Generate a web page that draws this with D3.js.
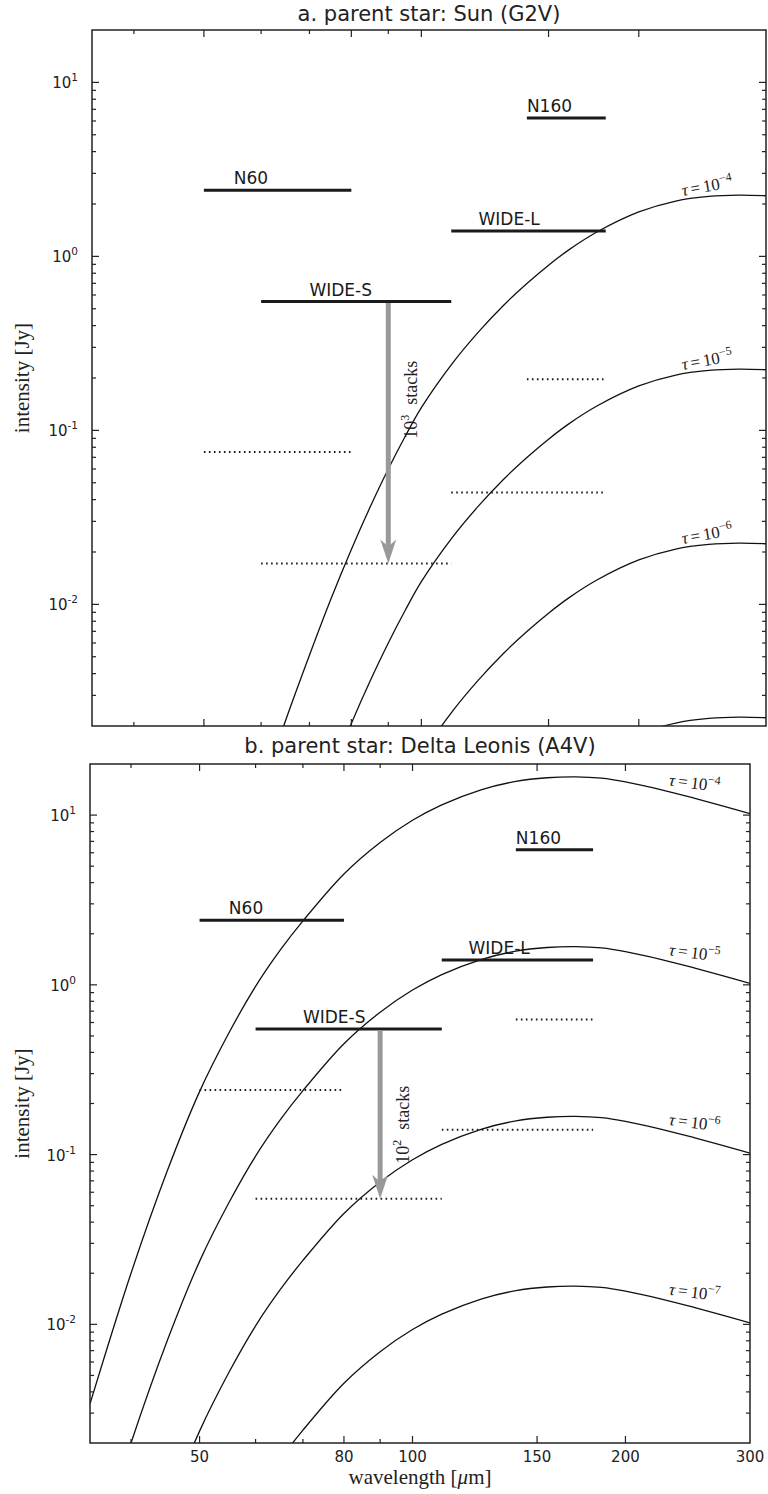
<!DOCTYPE html>
<html><head><meta charset="utf-8">
<script src="https://cdn.jsdelivr.net/npm/d3@7"></script>
<style>body{margin:0;background:#fff}svg{display:block}</style>
</head><body>
<svg id="c" width="768" height="1494"></svg>
<script>
// ---------------- data ----------------
const sunWavelengths = [62,65,70,75,80,85,90,95,100,110,120,130,140,150,160,175,200,225,250,275,300];
const sunTau4 = [0.00124,0.0022,0.0051,0.0108,0.0207,0.0365,0.060,0.0925,0.135,0.238,0.368,0.524,0.698,0.89,1.09,1.38,1.80,2.08,2.21,2.25,2.23];
const sunTau5 = [0.000124,0.00022,0.00051,0.00108,0.00207,0.00365,0.0060,0.00925,0.0135,0.0238,0.0368,0.0524,0.0698,0.089,0.109,0.138,0.180,0.208,0.221,0.225,0.223];
const sunTau6 = [0.0000124,0.000022,0.000051,0.000108,0.000207,0.000365,0.00060,0.000925,0.00135,0.00238,0.00368,0.00524,0.00698,0.0089,0.0109,0.0138,0.0180,0.0208,0.0221,0.0225,0.0223];
const sunTau7 = [0.00000124,0.0000022,0.0000051,0.0000108,0.0000207,0.0000365,0.000060,0.0000925,0.000135,0.000238,0.000368,0.000524,0.000698,0.00089,0.00109,0.00138,0.00180,0.00208,0.00221,0.00225,0.00223];

const leoWavelengths = [35,40,45,50,55,60,65,70,80,90,100,110,125,140,155,170,185,200,225,250,275,300];
const leoTau4 = [0.0034,0.020,0.080,0.235,0.52,0.98,1.6,2.38,4.5,6.9,9.32,11.49,14.1,15.8,16.6,16.8,16.5,15.7,14.1,12.6,11.3,10.2];
const leoTau5 = [0.00034,0.0020,0.0080,0.0235,0.052,0.098,0.16,0.238,0.45,0.69,0.932,1.149,1.41,1.58,1.66,1.68,1.65,1.57,1.41,1.26,1.13,1.02];
const leoTau6 = [0.000034,0.00020,0.00080,0.00235,0.0052,0.0098,0.016,0.0238,0.045,0.069,0.0932,0.1149,0.141,0.158,0.166,0.168,0.165,0.157,0.141,0.126,0.113,0.102];
const leoTau7 = [0.0000034,0.000020,0.000080,0.000235,0.00052,0.00098,0.0016,0.00238,0.0045,0.0069,0.00932,0.01149,0.0141,0.0158,0.0166,0.0168,0.0165,0.0157,0.0141,0.0126,0.0113,0.0102];

const sunTauExponents = ["\u22124","\u22125","\u22126"];
const leoTauExponents = ["\u22124","\u22125","\u22126","\u22127"];

const bandNames  = ["N60","WIDE-S","WIDE-L","N160"];
const bandStart  = [50,60,110,140];
const bandEnd    = [80,110,180,180];
const bandLevel  = [2.4,0.55,1.4,6.25];
const bandLabelAt = [55,70,120,140];
const sunLimit   = [0.075,0.0172,0.044,0.197];
const leoLimit   = [0.24,0.055,0.14,0.625];

const xMajorTicks = [50,80,100,150,200,300];
const xMinorTicks = [40,60,70,90];
const yMajorExponents = [-2,-1,0,1];
const stackExponents = ["3","2"];
const arrowWavelength = 90;

// ---------------- drawing ----------------
const svg = d3.select("#c");
const SANS = "'DejaVu Sans', 'Bitstream Vera Sans', sans-serif";
const SERIF = "'Liberation Serif', 'Times New Roman', serif";

function interpLog(wl, vals, x){
  for(let i=0;i<wl.length-1;i++){
    if(x>=wl[i] && x<=wl[i+1]){
      const t=(Math.log(x)-Math.log(wl[i]))/(Math.log(wl[i+1])-Math.log(wl[i]));
      return Math.exp(Math.log(vals[i])*(1-t)+Math.log(vals[i+1])*t);
    }
  }
  return vals[vals.length-1];
}

const panels = [
  {id:"a", x0:92, x1:766, y0:30, y1:726, title:"a. parent star: Sun (G2V)", titleY:21,
   wl:sunWavelengths, curves:[sunTau4,sunTau5,sunTau6,sunTau7], tauExp:sunTauExponents,
   tauRot:-10, tauOff:4, limits:sunLimit, stack:stackExponents[0], xLabels:false},
  {id:"b", x0:90, x1:750, y0:764, y1:1443, title:"b. parent star: Delta Leonis (A4V)", titleY:753,
   wl:leoWavelengths, curves:[leoTau4,leoTau5,leoTau6,leoTau7], tauExp:leoTauExponents,
   tauRot:7, tauOff:6, limits:leoLimit, stack:stackExponents[1], xLabels:true}
];

panels.forEach(p=>{
  const x = d3.scaleLog().domain([35,300]).range([p.x0,p.x1]);
  const y = d3.scaleLog().domain([0.002,20]).range([p.y1,p.y0]);
  const g = svg.append("g");

  g.append("clipPath").attr("id","clip"+p.id)
    .append("rect").attr("x",p.x0).attr("y",p.y0).attr("width",p.x1-p.x0).attr("height",p.y1-p.y0);
  const plot = g.append("g").attr("clip-path",`url(#clip${p.id})`);

  // curves
  const line = d3.line().x(d=>x(d[0])).y(d=>y(d[1])).curve(d3.curveCatmullRom.alpha(0.5));
  p.curves.forEach(vals=>{
    plot.append("path").datum(p.wl.map((w,i)=>[w,vals[i]]))
      .attr("d",line).attr("fill","none").attr("stroke","#111").attr("stroke-width",1.3);
  });

  // bands (solid) and detection limits (dotted)
  bandNames.forEach((nm,i)=>{
    plot.append("line").attr("x1",x(bandStart[i])).attr("x2",x(bandEnd[i]))
      .attr("y1",y(bandLevel[i])).attr("y2",y(bandLevel[i]))
      .attr("stroke","#1a1a1a").attr("stroke-width",3);
    plot.append("line").attr("x1",x(bandStart[i])).attr("x2",x(bandEnd[i]))
      .attr("y1",y(p.limits[i])).attr("y2",y(p.limits[i]))
      .attr("stroke","#1a1a1a").attr("stroke-width",2).attr("stroke-dasharray","1.6,3.4");
    g.append("text").attr("x",x(bandLabelAt[i])).attr("y",y(bandLevel[i])-6)
      .attr("font-family",SANS).attr("font-size",17).attr("fill","#1a1a1a").text(nm);
  });

  // arrow
  const ax = x(arrowWavelength);
  const yStart = y(bandLevel[1])+1.5;
  const yTip = y(p.limits[1]);
  g.append("line").attr("x1",ax).attr("x2",ax).attr("y1",yStart).attr("y2",yTip-16)
    .attr("stroke","#999").attr("stroke-width",5);
  g.append("path")
    .attr("d",`M${ax},${yTip} L${ax-8},${yTip-24} L${ax},${yTip-17} L${ax+8},${yTip-24} Z`)
    .attr("fill","#999");
  const st = g.append("text")
    .attr("transform",`translate(${ax+29},${y(0.15)}) rotate(-90)`)
    .attr("text-anchor","middle").attr("font-family",SERIF).attr("font-size",18).attr("fill","#222");
  st.append("tspan").text("10");
  st.append("tspan").attr("font-size",12).attr("dy",-8).text(p.stack);
  st.append("tspan").attr("dy",8).attr("dx",10).text("stacks");

  // tau labels
  p.tauExp.forEach((ex,i)=>{
    const lw = 230;
    const v = interpLog(p.wl,p.curves[i],lw);
    const t = g.append("text")
      .attr("transform",`translate(${x(lw)},${y(v)-p.tauOff}) rotate(${p.tauRot})`)
      .attr("font-family",SERIF).attr("font-size",17).attr("fill","#222");
    t.append("tspan").attr("font-style","italic").text("\u03c4");
    t.append("tspan").attr("dx",3).text("=");
    t.append("tspan").attr("dx",3).text("10");
    t.append("tspan").attr("font-size",12).attr("dy",-7).text(ex);
  });

  // frame
  g.append("rect").attr("x",p.x0).attr("y",p.y0).attr("width",p.x1-p.x0).attr("height",p.y1-p.y0)
    .attr("fill","none").attr("stroke","#222").attr("stroke-width",1.5);

  // x ticks (inside, top and bottom)
  const xt = [...xMajorTicks.map(v=>[v,7]),...xMinorTicks.map(v=>[v,4])].filter(d=>d[0]<300);
  xt.forEach(([v,len])=>{
    g.append("line").attr("x1",x(v)).attr("x2",x(v)).attr("y1",p.y1).attr("y2",p.y1-len)
      .attr("stroke","#222").attr("stroke-width",1.2);
    g.append("line").attr("x1",x(v)).attr("x2",x(v)).attr("y1",p.y0).attr("y2",p.y0+len)
      .attr("stroke","#222").attr("stroke-width",1.2);
  });
  if(p.xLabels){
    xMajorTicks.forEach(v=>{
      g.append("text").attr("x",x(v)).attr("y",p.y1+19).attr("text-anchor","middle")
        .attr("font-family",SANS).attr("font-size",15).attr("fill","#222").text(v);
    });
  }

  // y ticks
  const yt = [];
  for(let e=-3;e<=1;e++){
    for(let k=1;k<=9;k++){
      const v=k*Math.pow(10,e);
      if(v>0.002*1.0001 && v<20*0.9999) yt.push([v,k===1?7:4]);
    }
  }
  yt.forEach(([v,len])=>{
    g.append("line").attr("x1",p.x0).attr("x2",p.x0+len).attr("y1",y(v)).attr("y2",y(v))
      .attr("stroke","#222").attr("stroke-width",1.2);
    g.append("line").attr("x1",p.x1).attr("x2",p.x1-len).attr("y1",y(v)).attr("y2",y(v))
      .attr("stroke","#222").attr("stroke-width",1.2);
  });
  yMajorExponents.forEach(e=>{
    const t=g.append("text").attr("x",p.x0-14).attr("y",y(Math.pow(10,e))+6)
      .attr("text-anchor","end").attr("font-family",SANS).attr("font-size",15).attr("fill","#222");
    t.append("tspan").text("10");
    t.append("tspan").attr("font-size",10.5).attr("dy",-7).text(e<0?"-"+(-e):String(e));
  });

  // y label
  g.append("text").attr("transform",`translate(29,${(p.y0+p.y1)/2}) rotate(-90)`)
    .attr("text-anchor","middle").attr("font-family",SERIF).attr("font-size",21).attr("fill","#222")
    .text("intensity [Jy]");

  // title
  g.append("text").attr("x",(p.x0+p.x1)/2).attr("y",p.titleY).attr("text-anchor","middle")
    .attr("font-family",SANS).attr("font-size",21).attr("fill","#222").text(p.title);

  if(p.xLabels){
    const xl = g.append("text").attr("x",(p.x0+p.x1)/2).attr("y",p.y1+41).attr("text-anchor","middle")
      .attr("font-family",SERIF).attr("font-size",21).attr("fill","#222");
    xl.append("tspan").text("wavelength [");
    xl.append("tspan").attr("font-style","italic").text("\u03bc");
    xl.append("tspan").text("m]");
  }
});
</script>
</body></html>
